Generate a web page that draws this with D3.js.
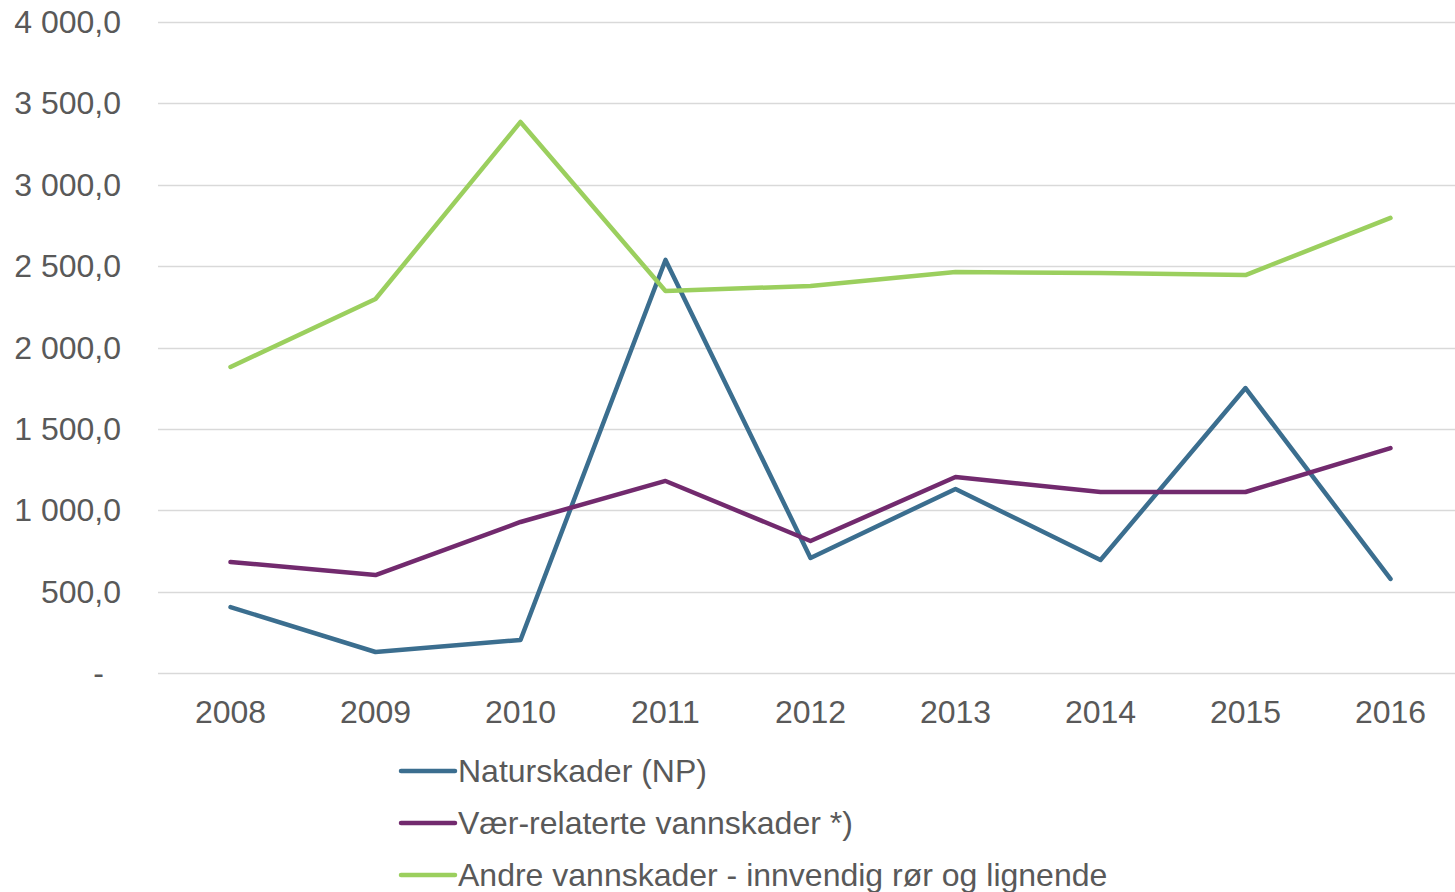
<!DOCTYPE html>
<html>
<head>
<meta charset="utf-8">
<script src="https://cdn.jsdelivr.net/npm/d3@7"></script>
<style>
  body { margin: 0; background: #fff; }
  text { font-family: "Liberation Sans", Arial, sans-serif; fill: #595959; }
</style>
</head>
<body>
<svg width="1455" height="892"></svg>
<script>
var years = ["2008", "2009", "2010", "2011", "2012", "2013", "2014", "2015", "2016"];
var naturskader = [405, 129, 203, 2538, 707, 1131, 694, 1751, 578];
var vaerRelaterte = [682, 602, 928, 1180, 811, 1204, 1112, 1112, 1382];
var andreVannskader = [1880, 2298, 3386, 2347, 2378, 2464, 2458, 2445, 2796];
var yTicks = [0, 500, 1000, 1500, 2000, 2500, 3000, 3500, 4000];

var series = [
    { name: "Naturskader (NP)", values: naturskader, color: "#3b6e8f" },
    { name: "Vær-relaterte vannskader *)", values: vaerRelaterte, color: "#722a6e" },
    { name: "Andre vannskader - innvendig rør og lignende", values: andreVannskader, color: "#9bcf5e" }
];

var svg = d3.select("svg");

var x = d3.scaleBand().domain(years).range([158, 1463]);
var y = d3.scaleLinear().domain([0, 4000]).range([673, 22]);

function fmt(v) {
    if (v === 0) return "-";
    return d3.format(",.1f")(v).replace(/,/g, " ").replace(".", ",");
}

// gridlines
svg.append("g")
    .selectAll("line")
    .data(yTicks)
    .join("line")
    .attr("x1", 158)
    .attr("x2", 1455)
    .attr("y1", d => Math.round(y(d)) + 0.5)
    .attr("y2", d => Math.round(y(d)) + 0.5)
    .attr("stroke", "#d9d9d9")
    .attr("stroke-width", 1.5);

// y labels
svg.append("g")
    .selectAll("text")
    .data(yTicks)
    .join("text")
    .attr("x", d => d === 0 ? 104 : 121)
    .attr("y", d => y(d) + 11)
    .attr("text-anchor", "end")
    .attr("font-size", 32)
    .text(fmt);

// x labels
svg.append("g")
    .selectAll("text")
    .data(years)
    .join("text")
    .attr("x", d => x(d) + x.bandwidth() / 2)
    .attr("y", 723)
    .attr("text-anchor", "middle")
    .attr("font-size", 32)
    .text(d => d);

var line = d3.line()
    .x((d, i) => x(years[i]) + x.bandwidth() / 2)
    .y(d => y(d));

svg.append("g")
    .selectAll("path")
    .data(series)
    .join("path")
    .attr("d", d => line(d.values))
    .attr("fill", "none")
    .attr("stroke", d => d.color)
    .attr("stroke-width", 4.5)
    .attr("stroke-linecap", "round")
    .attr("stroke-linejoin", "round");

// legend
var legend = svg.append("g")
    .selectAll("g")
    .data(series)
    .join("g")
    .attr("transform", (d, i) => "translate(401," + (771 + i * 52) + ")");

legend.append("line")
    .attr("x1", 0)
    .attr("x2", 54)
    .attr("stroke", d => d.color)
    .attr("stroke-width", 4.5)
    .attr("stroke-linecap", "round");

legend.append("text")
    .attr("x", 57)
    .attr("y", 11)
    .attr("font-size", 32)
    .text(d => d.name);
</script>
</body>
</html>
